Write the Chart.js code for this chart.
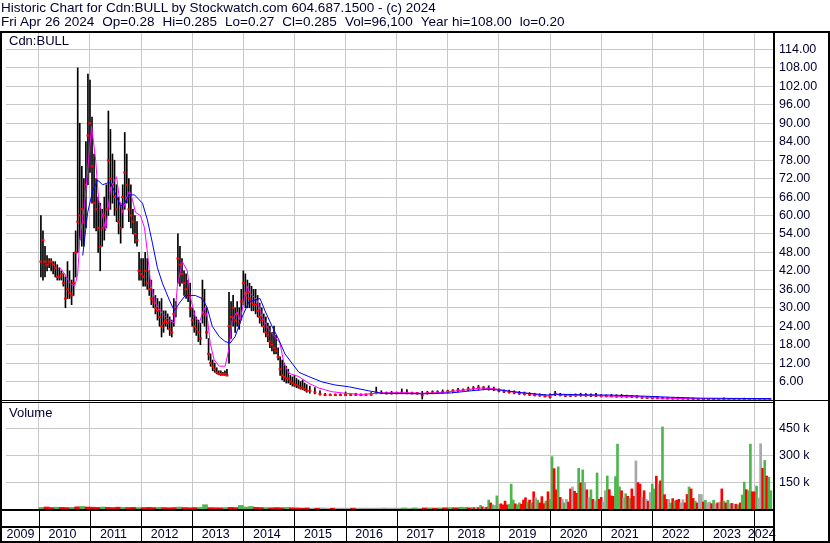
<!DOCTYPE html>
<html>
<head>
<meta charset="utf-8">
<script src="https://cdn.jsdelivr.net/npm/chart.js@4.4.1/dist/chart.umd.min.js"></script>
<style>
  html, body { margin:0; padding:0; background:#fff; }
  #wrap { position:relative; width:830px; height:543px; overflow:hidden; }
  #chart { position:absolute; left:0; top:0; }
  .hdr { position:absolute; left:1px; font:13.5px "Liberation Sans", Arial, sans-serif; color:#000030; white-space:pre; line-height:14px; }
</style>
</head>
<body>
<div id="wrap">
  <canvas id="chart" width="830" height="543"></canvas>
  <div class="hdr" style="top:1px">Historic Chart for Cdn:BULL by Stockwatch.com 604.687.1500 - (c) 2024</div>
  <div class="hdr" style="top:15px;word-spacing:0.3px">Fri Apr 26 2024  Op=0.28  Hi=0.285  Lo=0.27  Cl=0.285  Vol=96,100  Year hi=108.00  lo=0.20</div>
</div>
<script>
// Cdn:BULL historic chart

// x axis (decimal years) and bottom labels
const xMin = 2009.357, xMax = 2024.362;
const yearTicks = [2010,2011,2012,2013,2014,2015,2016,2017,2018,2019,2020,2021,2022,2023,2024];
const yearLabels = ['2009','2010','2011','2012','2013','2014','2015','2016','2017','2018','2019','2020','2021','2022','2023','2024'];
const volTicks = [150,300,450]; // thousands

// price bars (high / low / close)
const barYears = [
  2010.04,2010.08,2010.12,2010.16,2010.20,2010.24,2010.28,2010.32,2010.36,2010.40,
  2010.44,2010.48,2010.52,2010.56,2010.60,2010.64,2010.68,2010.72,2010.76,2010.80,
  2010.84,2010.88,2010.92,2010.96,2011.00,2011.04,2011.08,2011.12,2011.16,2011.20,
  2011.24,2011.28,2011.32,2011.36,2011.40,2011.44,2011.48,2011.52,2011.56,2011.60,
  2011.64,2011.68,2011.72,2011.76,2011.80,2011.84,2011.88,2011.92,2011.96,2012.00,
  2012.04,2012.08,2012.12,2012.16,2012.20,2012.24,2012.28,2012.32,2012.36,2012.40,
  2012.44,2012.48,2012.52,2012.56,2012.60,2012.64,2012.68,2012.72,2012.76,2012.80,
  2012.84,2012.88,2012.92,2012.96,2013.00,2013.04,2013.08,2013.12,2013.16,2013.20,
  2013.24,2013.28,2013.32,2013.36,2013.40,2013.44,2013.48,2013.52,2013.56,2013.60,
  2013.64,2013.68,2013.72,2013.76,2013.80,2013.84,2013.88,2013.92,2013.96,2014.00,
  2014.04,2014.08,2014.12,2014.16,2014.20,2014.24,2014.28,2014.32,2014.36,2014.40,
  2014.44,2014.48,2014.52,2014.56,2014.60,2014.64,2014.68,2014.72,2014.76,2014.80,
  2014.84,2014.88,2014.92,2014.96,2015.00,2015.04,2015.08,2015.12,2015.16,2015.20,
  2015.24,
  2015.3,2015.4,2015.5,2015.6,2015.7,2015.8,2015.9,2016.0,2016.1,2016.2,
  2016.3,2016.4,2016.5,2016.6,2016.7,2016.8,2016.9,2017.0,2017.1,2017.2,
  2017.3,2017.4,2017.5,2017.6,2017.7,2017.8,2017.9,2018.0,2018.1,2018.2,
  2018.3,2018.4,2018.5,2018.6,2018.7,2018.8,2018.9,2019.0,2019.1,2019.2,
  2019.3,2019.4,2019.5,2019.6,2019.7,2019.8,2019.9,2020.0,2020.1,2020.2,
  2020.3,2020.4,2020.5,2020.6,2020.7,2020.8,2020.9,2021.0,2021.1,2021.2,
  2021.3,2021.4,2021.5,2021.6,2021.7,2021.8,2021.9,2022.0,2022.1,2022.2,
  2022.3,2022.4,2022.5,2022.6,2022.7,2022.8,2022.9,2023.0,2023.1,2023.2,
  2023.3,2023.4,2023.5,2023.6,2023.7,2023.8,2023.9,2024.0,2024.1,2024.2,
  2024.3
];
const barHighs = [
  60,55,50,47,46,46,45,45,44,43, 42,41,40,45,42,39,48,55,108,90,
  76,72,84,106,104,92,80,72,66,64, 62,66,70,94,88,80,78,70,66,64,
  70,87,80,72,70,62,60,58,48,46, 46,48,46,42,39,36,34,33,32,33,
  29,29,28,27,26,33,32,54,50,46, 42,41,39,38,30,29,27,26,25,39,
  36,30,20,15,13,12,10.5,9.5,9.5,9, 9.5,10,35,32,34,30,32,30,36,42,
  41,39,38,37,36,36,34,31.5,30,28, 27,25,24,22,24,21,17,14,13,12,
  11,10,8,7.5,8,7,6.5,6,6.5,5.5, 5,
  4.5,4,3,2.2,2,2,2,2.6,2,2.2, 2,2,2.4,4.2,3,2.6,2.8,2.6,3.6,3.4,
  2.6,2.5,2.8,2.8,3,3,3.3,3.2,3.4,3.8, 3.6,4.2,4.4,4.8,4.4,4.6,4.2,3.6,3.3,3.2,
  3,2.8,2.6,2.4,2.2,2,1.8,2,2.8,2.2, 1.8,1.9,2,2.2,2.1,2,2.2,1.8,1.7,1.8,
  1.7,1.8,1.6,1.5,1.4,1.2,1.1,1,1.2,0.9, 0.8,0.8,0.9,0.7,0.6,0.6,0.5,0.5,0.5,0.45,
  0.5,0.7,0.45,0.4,0.4,0.6,0.4,0.4,0.45,0.35, 0.285
];
const barLows = [
  40,39,40,42,43,42,41,40,39,39, 39,37,30,33,33,31,34,40,48,52,
  50,50,56,70,74,64,56,55,48,42, 50,52,56,60,62,64,60,58,54,51,
  56,62,64,58,56,54,51,50,39,39, 37,37,36,34,31,30,28,26,24,20.5,
  22,24,23,21,20.5,24,27,38,37,38, 34,33,32,27,24,22,21,19,18,25,
  24,20,13,11,9.5,9,8.5,8.2,8,8, 8,7.8,12,20,24,22,24,23,26,31,
  30,30,30,29,29,28,27,25,24,22, 20.5,19,17,16,15,15,13,8,6.5,6,
  5.5,5.5,5,4.5,4.4,4,3.8,3.5,3.3,3, 2.5,
  2.2,2,1.6,1.4,1.4,1.4,1.4,1.4,1.4,1.4, 1.4,1.4,1.5,2,2,1.9,1.9,2,2,2,
  2,1.9,0.3,1.9,2,2.1,2.2,2.3,2.4,2.6, 2.8,3,3.2,3.2,3.4,3.2,3,2.6,2.4,2.2,
  2,1.8,1.6,1.4,1.3,1.2,1,0.6,1.4,1.3, 1.1,1.1,1.2,1.2,1.2,1.1,1.1,1,1,1,
  0.9,0.9,0.9,0.8,0.7,0.5,0.5,0.4,0.4,0.4, 0.35,0.3,0.3,0.3,0.25,0.25,0.2,0.2,0.2,0.2,
  0.2,0.2,0.2,0.2,0.2,0.2,0.2,0.2,0.22,0.22, 0.27
];
const barCloses = [
  45,52,45,44,45,45,44,43,40,40, 41,38,33,36,35,34,38,48,58,60,
  62,58,70,86,90,76,64,62,56,50, 56,60,62,78,72,70,66,62,58,56,
  66,74,70,62,60,58,54,52,42,41, 40,42,38,36,33,32,30,29,27,24,
  25,26,25,23,22,28,30,46,44,41, 38,36,34,30,26,24,23,22,20,33,
  28,22,15,12,11,10,9,8.5,8.5,8.5, 8.5,8,24,27,30,26,28,25,32,38,
  34,35,33,32,31,31,29,27,26,24, 22,21,19,18,17,16,14,10,8,7.5,
  7,7,6,5.5,5,5,4.5,4,4,3.5, 3,
  3,2.5,2,1.6,1.6,1.6,1.6,1.6,1.6,1.7, 1.6,1.6,1.8,2.5,2.3,2.2,2.2,2.2,2.4,2.3,
  2.2,2.2,1.5,2.3,2.5,2.5,2.6,2.8,3,3.2, 3.2,3.5,3.8,4,4,3.8,3.5,3,2.8,2.6,
  2.4,2.2,2,1.8,1.6,1.5,1.2,1,2,1.6, 1.4,1.4,1.5,1.6,1.5,1.5,1.4,1.3,1.3,1.2,
  1.2,1.2,1.1,1.1,1,0.8,0.7,0.6,0.6,0.55, 0.5,0.5,0.5,0.45,0.4,0.35,0.3,0.3,0.3,0.3,
  0.3,0.3,0.3,0.3,0.25,0.3,0.3,0.3,0.3,0.28, 0.285
];

// moving averages (magenta = short, blue = long)
const fastYears = [2010.409,2010.507,2010.604,2010.702,2010.760,2010.799,2010.897,2010.994,2011.033,2011.111,
  2011.169,2011.247,2011.306,2011.345,2011.403,2011.481,2011.520,2011.579,2011.637,2011.696,
  2011.774,2011.832,2011.891,2011.988,2012.066,2012.124,2012.183,2012.280,2012.417,2012.553,
  2012.650,2012.709,2012.806,2012.904,2012.962,2013.060,2013.138,2013.235,2013.294,2013.352,
  2013.430,2013.528,2013.645,2013.723,2013.781,2013.878,2013.937,2014.015,2014.073,2014.132,
  2014.268,2014.366,2014.502,2014.619,2014.716,2014.794,2014.892,2015.087,2015.282,2015.477,
  2015.731,2015.983,2016.315,2016.705,2017.094,2017.484,2017.874,2018.264,2018.654,2018.946,
  2019.238,2019.628,2019.959,2020.115,2020.407,2020.797,2021.187,2021.771,2022.161,2022.746,
  2023.330,2023.818,2024.325];
const fastValues = [43,41,38,37,41,52,64,82,89,78, 65,60,55,61,69,71.5,72.6,65,61,65,
  68,65,61,60,56,48,38,31.5,28,26, 25,37,45,42,33.5,27,25,30,27,18.5,
  13,11,11,17,26,28.7,26,32.5,37,34.7, 32.5,27,22.8,20.6,18.5,12,8.7,7.6,5.4,3.9,
  2.7,2.2,1.8,2.3,2.4,2.2,2.4,3.1,3.9,3.6, 2.7,2.0,1.3,1.8,1.5,1.5,1.25,1.05,0.6,0.45,
  0.32,0.32,0.28];
const slowYears = [2010.858,2010.955,2011.053,2011.150,2011.247,2011.345,2011.403,2011.501,2011.598,2011.676,
  2011.774,2011.871,2012.027,2012.124,2012.222,2012.319,2012.417,2012.553,2012.650,2012.748,
  2012.865,2013.060,2013.196,2013.294,2013.391,2013.528,2013.645,2013.742,2013.839,2013.976,
  2014.112,2014.229,2014.327,2014.424,2014.561,2014.697,2014.814,2014.950,2015.087,2015.282,
  2015.536,2015.789,2016.062,2016.451,2016.705,2017.484,2018.069,2018.459,2018.790,2019.043,
  2019.433,2019.959,2020.115,2020.602,2021.187,2021.771,2022.356,2022.941,2023.720,2024.325];
const slowValues = [47,61,68,71.5,70,70.6,70.6,67,63,64, 66.7,66.7,64,58.5,51,43,38,32.5,29,31.5,
  34,34,33,30,24,20.6,19,18.5,20.6,27, 32,32.5,33,29,24,19.5,15,12,9,7.6,
  5.9,4.9,4.3,3,2.2,2.0,2.3,3.0,3.5,3.2, 2.4,1.6,1.9,1.7,1.6,1.3,0.9,0.6,0.5,0.45];

// volume, thousands of shares; u = up day, d = down day, f = unchanged
const volEarlyYears = [
  2010.05,2010.15,2010.25,2010.35,2010.45,2010.55,2010.65,2010.75,2010.85,2010.95,
  2011.05,2011.15,2011.25,2011.35,2011.45,2011.55,2011.65,2011.75,2011.85,2011.95,
  2012.05,2012.15,2012.25,2012.35,2012.45,2012.55,2012.65,2012.75,2012.85,2012.95,
  2013.05,2013.15,2013.25,2013.35,2013.45,2013.55,2013.65,2013.75,2013.85,2013.95,
  2014.05,2014.15,2014.25,2014.35,2014.45,2014.55,2014.65,2014.75,2014.85,2014.95,
  2015.05,2015.15,2015.25,2015.35,2015.45,2015.55,2015.65,2015.75,2015.85,2015.95,
  2016.05,2016.15,2016.25,2016.35,2016.45,2016.55,2016.65,2016.75,2016.85,2016.95,
  2017.05,2017.15,2017.25,2017.35,2017.45,2017.55,2017.65,2017.75,2017.85,2017.95,
  2018.05,2018.15,2018.25];
const volEarly = [
  9,11,8,10,9,8,9,12,14,11, 10,9,11,9,8,10,9,8,9,8, 8,9,8,9,8,7,8,11,8,7,
  8,9,24,8,7,7,8,9,8,20, 11,14,9,8,8,7,8,7,9,7, 6,5,6,5,5,6,5,5,5,5,
  5,5,5,5,5,5,5,6,5,5, 5,6,5,6,5,6,6,5,6,7, 8,7,10];
const volEarlyDir = [
  'u','d','d','u','d','d','u','d','u','d', 'd','d','u','d','d','d','u','d','d','u',
  'd','d','d','u','d','d','d','u','d','d', 'd','u','u','d','d','d','u','d','d','u',
  'u','u','d','d','u','d','d','d','u','d', 'd','d','d','f','d','f','f','d','f','f',
  'f','d','f','f','f','f','f','f','f','f', 'f','u','f','u','f','d','u','d','u','d',
  'u','d','u'];

const volYears = [
  2018.32,2018.36,2018.40,2018.44,2018.48,2018.52,2018.56,2018.60,2018.64,2018.68,
  2018.72,2018.76,2018.80,2018.84,2018.88,2018.92,2018.96,2019.00,2019.04,2019.08,
  2019.12,2019.16,2019.20,2019.24,2019.28,2019.32,2019.36,2019.40,2019.44,2019.48,
  2019.52,2019.56,2019.60,2019.64,2019.68,2019.72,2019.76,2019.80,2019.84,2019.88,
  2019.92,2019.96,2020.00,2020.04,2020.08,2020.12,2020.16,2020.20,2020.24,2020.28,
  2020.32,2020.36,2020.40,2020.44,2020.48,2020.52,2020.56,2020.60,2020.64,2020.68,
  2020.72,2020.76,2020.80,2020.84,2020.88,2020.92,2020.96,2021.00,2021.04,2021.08,
  2021.12,2021.16,2021.20,2021.24,2021.28,2021.32,2021.36,2021.40,2021.44,2021.48,
  2021.52,2021.56,2021.60,2021.64,2021.68,2021.72,2021.76,2021.80,2021.84,2021.88,
  2021.92,2021.96,2022.00,2022.04,2022.08,2022.12,2022.16,2022.20,2022.24,2022.28,
  2022.32,2022.36,2022.40,2022.44,2022.48,2022.52,2022.56,2022.60,2022.64,2022.68,
  2022.72,2022.76,2022.80,2022.84,2022.88,2022.92,2022.96,2023.00,2023.04,2023.08,
  2023.12,2023.16,2023.20,2023.24,2023.28,2023.32,2023.36,2023.40,2023.44,2023.48,
  2023.52,2023.56,2023.60,2023.64,2023.68,2023.72,2023.76,2023.80,2023.84,2023.88,
  2023.92,2023.96,2024.00,2024.04,2024.08,2024.12,2024.16,2024.20,2024.24,2024.28,
  2024.32];
const volumes = [
  8,10,7,6,9,7,10,8,20,12, 8,10,50,34,23,20,73,27,29,23,
  44,23,25,139,50,29,23,34,27,50, 63,39,50,34,96,63,50,34,69,30,
  44,96,54,292,225,107,235,65,54,34, 54,39,112,123,99,88,227,146,218,147,
  107,63,107,54,44,201,54,65,39,102, 184,108,73,71,181,362,123,102,63,85,
  71,59,112,71,268,147,139,65,102,54, 44,92,139,112,183,139,157,458,80,54,
  54,34,58,44,49,54,34,52,34,81, 123,112,59,44,34,81,81,39,49,34,
  39,30,49,30,34,39,112,44,34,49, 30,31,25,27,23,34,78,150,108,102,
  362,96,96,128,61,364,227,271,184,177, 102];
const volDir = [
  'u','u','d','d','u','d','f','d','u','d', 'f','d','u','d','u','f','u','f','d','d',
  'd','d','u','u','u','d','u','u','d','d', 'd','u','d','u','d','f','u','d','d','d',
  'u','d','u','u','d','d','u','d','f','u', 'f','d','d','f','d','d','u','d','u','f',
  'd','f','u','d','f','u','d','d','f','f', 'u','d','d','d','u','u','u','d','f','u',
  'd','u','d','d','f','d','d','f','d','f', 'd','f','u','u','d','f','d','u','d','d',
  'f','u','d','u','d','d','f','f','d','d', 'u','d','d','u','d','f','f','d','u','f',
  'f','d','u','f','d','f','d','u','d','u', 'f','d','f','d','u','d','u','u','d','u',
  'u','d','d','u','f','f','d','u','d','u', 'u'];

const dirColor = { u:'#4cb84c', d:'#ff0000', f:'#a8a8a8' };
const gridColor = '#c8c8c8';
const textColor = '#000030';
const fontFamily = '"Liberation Sans", Arial, sans-serif';
const tickFont = { family: fontFamily, size: 12.5 };

const bars = barYears.map((t, i) => ({ x: t, y: [barLows[i], barHighs[i]] }));
const closes = barYears.map((t, i) => ({ x: t, y: barCloses[i] }));

// white page, black frame, bottom year boxes and panel captions
const framePlugin = {
  id: 'frame',
  beforeDraw(chart) {
    const c = chart.ctx;
    c.save();
    c.fillStyle = '#fff';
    c.fillRect(0, 0, chart.width, chart.height);
    c.restore();
  },
  afterDraw(chart) {
    const c = chart.ctx, a = chart.chartArea, xs = chart.scales.x;
    const priceBottom = Math.round(chart.scales.y.bottom);
    const W = chart.width, H = chart.height;
    c.save();
    c.fillStyle = '#000';
    c.fillRect(0, a.top, W, 2);
    c.fillRect(0, a.top, 2, H - a.top);
    c.fillRect(W - 2, a.top, 2, H - a.top);
    c.fillRect(a.right, a.top, 2, H - a.top - 1);
    c.fillRect(0, priceBottom, W, 1);
    c.fillRect(0, priceBottom + 2, a.right, 1);
    c.fillRect(0, a.bottom, a.right, 2);
    c.fillRect(0, a.bottom + 17, a.right, 2);
    c.fillRect(0, H - 2, W, 2);
    yearTicks.forEach(v => {
      const px = Math.round(xs.getPixelForValue(v));
      c.fillRect(px, a.bottom, 1, H - a.bottom);
    });
    c.fillStyle = textColor;
    c.font = '12.5px ' + fontFamily;
    c.textBaseline = 'middle';
    c.textAlign = 'center';
    const edges = [xMin].concat(yearTicks, [xMax]);
    yearLabels.forEach((lab, i) => {
      const cx = (xs.getPixelForValue(edges[i]) + xs.getPixelForValue(edges[i + 1])) / 2 - 2;
      c.fillText(lab, cx, a.bottom + 26);
    });
    c.textAlign = 'left';
    c.font = '13px ' + fontFamily;
    c.fillText('Cdn:BULL', 9, a.top + 10);
    c.fillText('Volume', 9, priceBottom + 13);
    c.restore();
  }
};

new Chart(document.getElementById('chart'), {
  type: 'bar',
  data: {
    datasets: [
      { type: 'line', data: slowYears.map((t, i) => ({ x: t, y: slowValues[i] })), yAxisID: 'y',
        borderColor: '#0000ff', borderWidth: 1, pointRadius: 0, tension: 0 },
      { type: 'line', data: fastYears.map((t, i) => ({ x: t, y: fastValues[i] })), yAxisID: 'y',
        borderColor: '#ff00ff', borderWidth: 1, pointRadius: 0, tension: 0 },
      { type: 'line', data: closes, yAxisID: 'y', showLine: false, pointStyle: 'line',
        pointRadius: 1.5, pointBorderWidth: 2, pointBorderColor: '#ff0000', pointBackgroundColor: '#ff0000' },
      { type: 'bar', data: bars, yAxisID: 'y', grouped: false,
        backgroundColor: '#000', barThickness: 1 },
      { type: 'bar', data: volYears.map((t, i) => ({ x: t, y: volumes[i] })), yAxisID: 'v', grouped: false,
        backgroundColor: volDir.map(d => dirColor[d]), barThickness: 2 },
      { type: 'bar', data: volEarlyYears.map((t, i) => ({ x: t, y: volEarly[i] })), yAxisID: 'v', grouped: false,
        backgroundColor: volEarlyDir.map(d => dirColor[d]), barThickness: 5 }
    ]
  },
  options: {
    responsive: false,
    animation: false,
    events: [],
    layout: { padding: { top: 31, left: 3, right: 0, bottom: 0 } },
    plugins: { legend: { display: false }, tooltip: { enabled: false } },
    scales: {
      x: {
        type: 'linear', min: xMin, max: xMax, offset: false,
        grid: { color: gridColor, drawTicks: false, offset: false },
        border: { display: false },
        ticks: { display: false },
        afterBuildTicks: s => { s.ticks = yearTicks.map(v => ({ value: v })); },
        afterFit: s => { s.height = 34; }
      },
      y: {
        position: 'right', stack: 'panes', stackWeight: 369, min: 0, max: 120,
        grid: { color: gridColor, drawTicks: false },
        border: { display: false },
        ticks: { stepSize: 6, autoSkip: false, padding: 6, color: textColor, font: tickFont,
          callback: v => (v > 0 && v < 120) ? v.toFixed(2) : '' },
        afterFit: s => { s.width = 57; }
      },
      v: {
        position: 'right', stack: 'panes', stackWeight: 109, min: 0, max: 608,
        grid: { color: gridColor, drawTicks: false },
        border: { display: false },
        ticks: { autoSkip: false, padding: 6, color: textColor, font: tickFont, callback: v => v + ' k' },
        afterBuildTicks: s => { s.ticks = volTicks.map(v => ({ value: v })); },
        afterFit: s => { s.width = 57; }
      }
    }
  },
  plugins: [framePlugin]
});
</script>
</body>
</html>
